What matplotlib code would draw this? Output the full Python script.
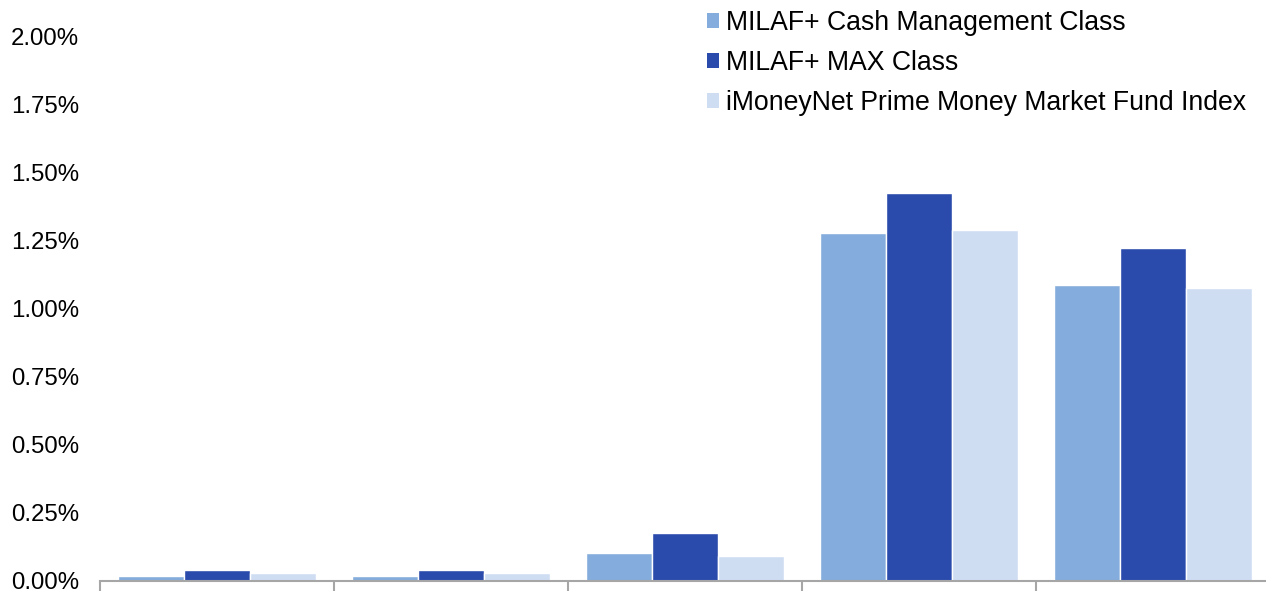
import matplotlib

matplotlib.use("Agg")
import matplotlib.pyplot as plt
import numpy as np
from matplotlib.patches import Patch
from matplotlib.ticker import FuncFormatter

plt.rcParams["font.family"] = ["Liberation Sans", "DejaVu Sans"]

series_names = [
    "MILAF+ Cash Management Class",
    "MILAF+ MAX Class",
    "iMoneyNet Prime Money Market Fund Index",
]
# values in percent, five periods (unlabelled in the source)
cash_mgmt = [0.015, 0.015, 0.102, 1.279, 1.085]
max_class = [0.037, 0.037, 0.173, 1.423, 1.224]
imoneynet = [0.029, 0.027, 0.091, 1.287, 1.077]
colors = ["#84ACDC", "#2B4BAC", "#CFDDF3"]
y_ticks = [0.0, 0.25, 0.5, 0.75, 1.0, 1.25, 1.5, 1.75, 2.0]

fig = plt.figure(figsize=(12.66, 5.91), dpi=100)
ax = fig.add_axes([100 / 1266, 10.5 / 591, 1170 / 1266, 544 / 591])

x = np.arange(len(cash_mgmt))
w = 0.283
for i, vals in enumerate([cash_mgmt, max_class, imoneynet]):
    ax.bar(x + (i - 1) * w, vals, width=w, color=colors[i],
           edgecolor="white", linewidth=1.0, zorder=2)

ax.set_xlim(-0.5, len(cash_mgmt) - 0.5)
ax.set_ylim(0, 2.0)
ax.set_yticks(y_ticks)
ax.yaxis.set_major_formatter(FuncFormatter(lambda v, _: f"{v:.2f}%"))
ax.tick_params(axis="y", length=0, pad=15, labelsize=17.3, labelcolor="black")

ax.set_xticks(np.arange(-0.5, len(cash_mgmt), 1.0))
ax.set_xticklabels([])
ax.tick_params(axis="x", direction="out", length=9, width=1.5, color="#A6A6A6")

for s in ["top", "right", "left"]:
    ax.spines[s].set_visible(False)
ax.spines["bottom"].set_color("#A6A6A6")
ax.spines["bottom"].set_linewidth(1.5)
ax.spines["bottom"].set_zorder(3)

handles = [Patch(facecolor=c, edgecolor="none") for c in colors]
fig.legend(handles, series_names, loc="upper left",
           bbox_to_anchor=(702 / 1266, 1.0 - 4.5 / 591), frameon=False,
           fontsize=19.2, handlelength=0.45, handleheight=0.45,
           handletextpad=0.25, labelspacing=0.53, borderaxespad=0,
           borderpad=0.2)

fig.savefig("out.png", dpi=100)
